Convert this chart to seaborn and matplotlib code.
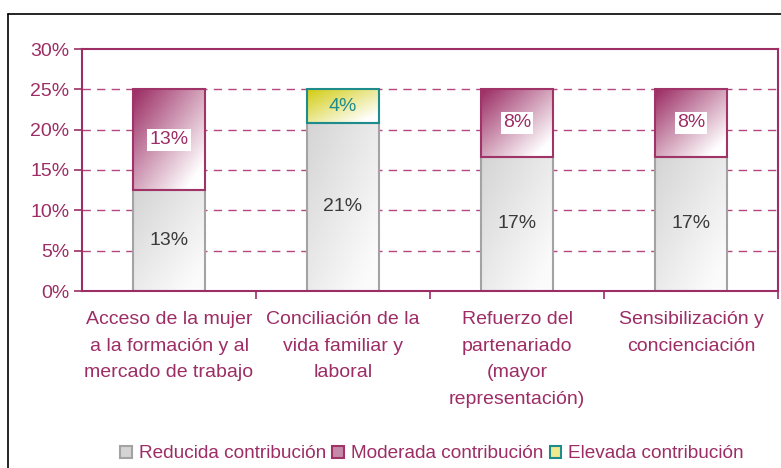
import numpy as np
import pandas as pd
import matplotlib
matplotlib.use("Agg")
import matplotlib.pyplot as plt
import seaborn as sns
from matplotlib.colors import to_rgb
from matplotlib.patches import Patch
from matplotlib.lines import Line2D
from matplotlib.transforms import blended_transform_factory

categories = [
    "Acceso de la mujer\na la formación y al\nmercado de trabajo",
    "Conciliación de la\nvida familiar y\nlaboral",
    "Refuerzo del\npartenariado\n(mayor\nrepresentación)",
    "Sensibilización y\nconcienciación",
]
reducida = [12.5, 20.83, 16.67, 16.67]
moderada = [12.5, 0.0, 8.33, 8.33]
elevada = [0.0, 4.17, 0.0, 0.0]
series_names = ["Reducida contribución", "Moderada contribución", "Elevada contribución"]
y_ticks = [0, 5, 10, 15, 20, 25, 30]

MAG = "#9c2d65"
GRID = "#b5467f"
TEAL = "#1f8c8c"
FS = 14

sns.set_theme(style="white")
plt.rcParams["font.family"] = ["Liberation Sans", "DejaVu Sans"]

fig = plt.figure(figsize=(7.81, 4.68), dpi=100)
ax = fig.add_axes([82 / 781, 1 - 291 / 468, 696 / 781, 242 / 468])

# colour ramps: (top-left colour, bottom-right colour, edge colour, label colour)
styles = [
    ("#d4d4d4", "#fbfbfb", "#a3a3a3", "#3a3a3a"),
    ("#9a2a62", "#ffffff", "#a03468", MAG),
    ("#d2cc10", "#ffffff", TEAL, TEAL),
]

values = [reducida, moderada, elevada]
bottoms = [
    [0.0] * 4,
    list(reducida),
    [r + m for r, m in zip(reducida, moderada)],
]

segments = []
for name, vals, bots, sty in zip(series_names, values, bottoms, styles):
    df = pd.DataFrame({"categoria": categories, "valor": vals})
    n_before = len(ax.patches)
    sns.barplot(data=df, x="categoria", y="valor", order=categories, ax=ax,
                width=0.41, bottom=bots, color=sty[0], edgecolor=sty[2],
                linewidth=1.5, errorbar=None, zorder=2)
    for p, v in zip(ax.patches[n_before:], vals):
        segments.append((p, v, sty))


def gradient_fill(patch, c0, c1):
    x0, y0 = patch.get_x(), patch.get_y()
    w, h = patch.get_width(), patch.get_height()
    n = 96
    xx, yy = np.meshgrid(np.linspace(0, 1, n), np.linspace(0, 1, n))
    t = np.clip((xx + yy) / 2 * 1.15, 0, 1)[..., None]
    img = (1 - t) * np.array(to_rgb(c0)) + t * np.array(to_rgb(c1))
    im = ax.imshow(img, extent=(x0, x0 + w, y0, y0 + h), origin="upper",
                   aspect="auto", zorder=1.8, interpolation="bilinear")
    im.set_clip_path(patch)
    patch.set_facecolor("none")


for p, v, sty in segments:
    if v <= 0:
        p.remove()
        continue
    gradient_fill(p, sty[0], sty[1])
    cx = p.get_x() + p.get_width() / 2
    cy = p.get_y() + p.get_height() / 2
    txt = f"{int(v + 0.5)}%"
    kw = dict(ha="center", va="center", fontsize=FS, color=sty[3], zorder=4)
    if sty is styles[1]:
        kw["bbox"] = dict(boxstyle="square,pad=0.12", fc="white", ec="none")
    ax.text(cx, cy, txt, **kw)

ax.set_xlim(-0.5, 3.5)
ax.set_ylim(0, 30)
ax.set_yticks(y_ticks)
ax.set_yticklabels([f"{t}%" for t in y_ticks])
ax.set_xlabel("")
ax.set_ylabel("")

# dashed horizontal grid
for t in y_ticks[1:-1]:
    ax.axhline(t, color=GRID, lw=1.0, ls=(0, (6, 4.5)), zorder=1)

for s in ax.spines.values():
    s.set_visible(True)
    s.set_color(MAG)
    s.set_linewidth(1.5)

ax.tick_params(axis="y", which="major", left=True, length=6, width=1.2,
               color=MAG, labelcolor=MAG, labelsize=FS, pad=3)
ax.set_xticks([0.5, 1.5, 2.5, 3.5], minor=True)
ax.tick_params(axis="x", which="minor", bottom=True, length=6, width=1.2, color=MAG)
ax.tick_params(axis="x", which="major", bottom=False, length=0,
               labelbottom=False)

# multi-line category names under each bar
trans = blended_transform_factory(ax.transData, ax.transAxes)
for i, cat in enumerate(categories):
    ax.text(i, -0.083, cat, transform=trans, ha="center", va="top",
            fontsize=FS, color=MAG, linespacing=1.73)

handles = [Patch(facecolor=s[0] if i != 1 else "#c48aa8", edgecolor=s[2], lw=1.5)
           for i, s in enumerate([styles[0], styles[1], ("#eeea90", "#fff", TEAL, TEAL)])]
leg = fig.legend(handles, series_names, loc="center", bbox_to_anchor=(0.553, 0.030),
                 ncol=3, frameon=False, fontsize=13.7, handlelength=0.6,
                 handleheight=0.6, handletextpad=0.35, columnspacing=0.35,
                 borderaxespad=0)
for t in leg.get_texts():
    t.set_color(MAG)

# outer frame of the chart area
fig.add_artist(Line2D([8 / 781, 8 / 781], [0, 1 - 14 / 468], color="black", lw=1.2,
                      transform=fig.transFigure))
fig.add_artist(Line2D([8 / 781, 1], [1 - 14 / 468, 1 - 14 / 468], color="black", lw=1.2,
                      transform=fig.transFigure))

fig.savefig("out.png", dpi=100)
